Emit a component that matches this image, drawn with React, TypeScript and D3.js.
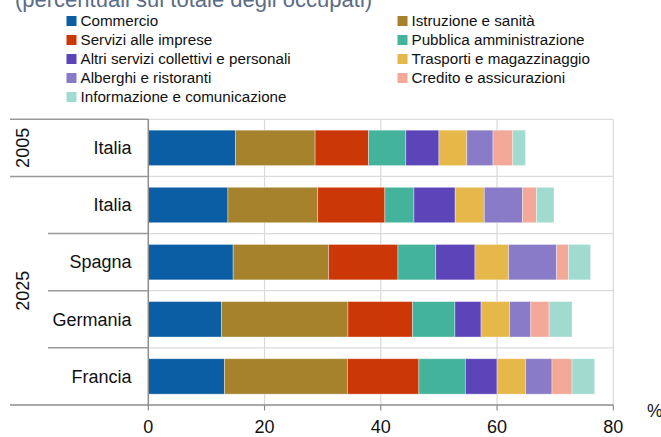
import React from "react";
import * as d3 from "d3";

const rows = ["2005|Italia", "2025|Italia", "2025|Spagna", "2025|Germania", "2025|Francia"];
const rowLabels = ["Italia", "Italia", "Spagna", "Germania", "Francia"];
const years = ["2005", "2025"];
const yearRows = [[0, 0], [1, 4]];

const seriesNames = [
  "Commercio",
  "Istruzione e sanità",
  "Servizi alle imprese",
  "Pubblica amministrazione",
  "Altri servizi collettivi e personali",
  "Trasporti e magazzinaggio",
  "Alberghi e ristoranti",
  "Credito e assicurazioni",
  "Informazione e comunicazione",
];
const colors = ["#0b5ea4", "#a6822c", "#cc3707", "#43b39b", "#5c45b8", "#e6b849", "#897bc7", "#f4a897", "#a1dbd0"];

const commercio = [15.0, 13.7, 14.6, 12.6, 13.1];
const istruzione = [13.7, 15.45, 16.4, 21.75, 21.15];
const serviziImprese = [9.2, 11.55, 11.95, 11.1, 12.3];
const pubblicaAmm = [6.4, 5.0, 6.5, 7.3, 8.0];
const altriServizi = [5.7, 7.1, 6.75, 4.5, 5.45];
const trasporti = [4.8, 5.0, 5.8, 4.9, 4.9];
const alberghi = [4.5, 6.6, 8.25, 3.65, 4.55];
const credito = [3.4, 2.4, 2.05, 3.15, 3.45];
const informazione = [2.2, 3.0, 3.8, 3.95, 3.9];
const seriesValues = [commercio, istruzione, serviziImprese, pubblicaAmm, altriServizi, trasporti, alberghi, credito, informazione];

const xTicks = [0, 20, 40, 60, 80];

const W = 661;
const H = 437;
const FONT = "'Liberation Sans', Arial, sans-serif";

export default function App() {
  const x = d3.scaleLinear().domain([0, 80]).range([148.3, 613.3]);
  const y = d3.scaleBand<string>().domain(rows).range([119.3, 405]).paddingInner(0.38).paddingOuter(0.19);
  const step = y.step();
  const top = 119.3;
  const bottom = 405;

  const table = rows.map((r, i) => {
    const o: Record<string, number | string> = { row: r };
    seriesNames.forEach((s, j) => (o[s] = seriesValues[j][i]));
    return o;
  });
  const stacked = d3.stack<any>().keys(seriesNames)(table as any);

  const boundaries = rows.map((_, i) => top + i * step);

  return (
    <svg width={W} height={H} style={{ position: "absolute", left: 0, top: 0, display: "block", background: "#fff" }} fontFamily={FONT}>
      {/* title (cut off) */}
      <text x={15} y={7} fontSize={22} fill="#5b6c86">(percentuali sul totale degli occupati)</text>

      {/* legend */}
      {seriesNames.map((s, i) => {
        const col = i % 2;
        const row = Math.floor(i / 2);
        const sx = col === 0 ? 66.5 : 397.5;
        const cy = 21 + row * 19;
        return (
          <g key={s}>
            <rect x={sx} y={cy - 5} width={10} height={10} fill={colors[i]} />
            <text x={sx + 14} y={cy + 5.4} fontSize={15.2} fill="#111">{s}</text>
          </g>
        );
      })}

      {/* gridlines */}
      {xTicks.slice(1).map((t) => (
        <line key={t} x1={x(t)} x2={x(t)} y1={top} y2={bottom} stroke="#d9d9d9" strokeWidth={1.2} />
      ))}
      {boundaries.map((b, i) => (
        <line key={i} x1={x(0)} x2={x(80)} y1={b} y2={b} stroke="#dcdcdc" strokeWidth={1.2} />
      ))}

      {/* bars */}
      {stacked.map((layer, j) => (
        <g key={layer.key} fill={colors[j]}>
          {layer.map((d, i) => (
            <rect
              key={i}
              x={x(d[0])}
              width={x(d[1]) - x(d[0])}
              y={y(rows[i])}
              height={y.bandwidth()}
              stroke="#ffffff"
              strokeOpacity={0.45}
              strokeWidth={0.8}
            />
          ))}
        </g>
      ))}

      {/* left axis & group separators */}
      <line x1={x(0)} x2={x(0)} y1={top} y2={bottom} stroke="#8c8c8c" strokeWidth={1.5} />
      {boundaries.map((b, i) => {
        const isYear = i === 0 || i === 1;
        return <line key={i} x1={isYear ? 10 : 48} x2={x(0)} y1={b} y2={b} stroke="#999" strokeWidth={1.5} />;
      })}
      <line x1={10} x2={x(80)} y1={bottom} y2={bottom} stroke="#8c8c8c" strokeWidth={1.5} />

      {/* x ticks */}
      {xTicks.map((t) => (
        <g key={t}>
          <line x1={x(t)} x2={x(t)} y1={bottom} y2={bottom + 5.5} stroke="#8c8c8c" strokeWidth={1.2} />
          <text x={x(t)} y={433} fontSize={18} textAnchor="middle" fill="#111">{t}</text>
        </g>
      ))}
      <text x={647} y={417} fontSize={17.5} fill="#111">%</text>

      {/* category labels */}
      {rows.map((r, i) => (
        <text key={r} x={131.5} y={(y(r) as number) + y.bandwidth() / 2 + 6.3} fontSize={18} textAnchor="end" fill="#111">
          {rowLabels[i]}
        </text>
      ))}

      {/* year labels */}
      {years.map((yr, k) => {
        const [a, b] = yearRows[k];
        const cy = (top + a * step + top + (b + 1) * step) / 2;
        return (
          <text key={yr} transform={`translate(29,${cy}) rotate(-90)`} fontSize={18} textAnchor="middle" fill="#111">
            {yr}
          </text>
        );
      })}
    </svg>
  );
}
